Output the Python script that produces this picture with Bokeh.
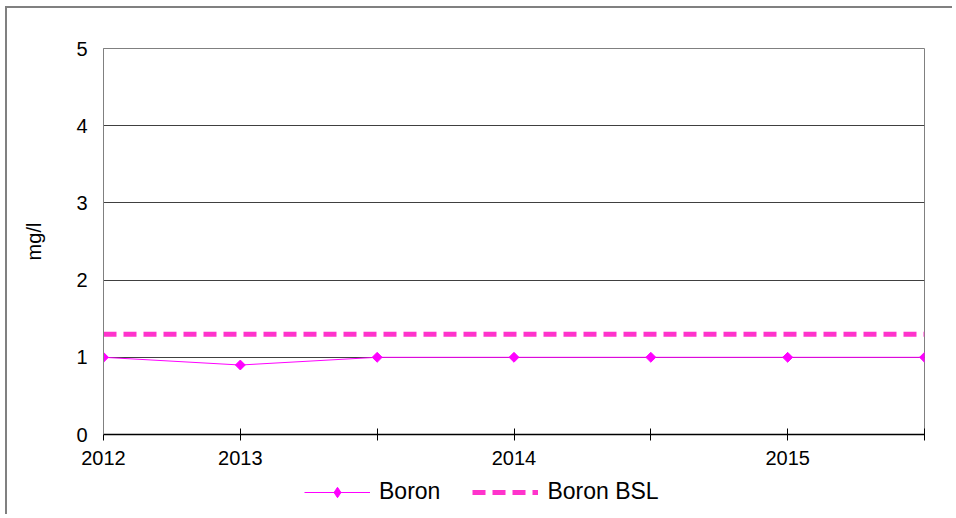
import math
from bokeh.plotting import figure
from bokeh.layouts import column
from bokeh.models import (Range1d, FixedTicker, Legend, LegendItem, ColumnDataSource)
from bokeh.embed import file_html
from bokeh.resources import INLINE

# ---- data ----
x_pos = [0, 1, 2, 3, 4, 5, 6]
x_labels = ["2012", "2013", "", "2014", "", "2015", ""]
boron = [1.0, 0.9, 1.0, 1.0, 1.0, 1.0, 1.0]
boron_bsl = [1.3, 1.3, 1.3, 1.3, 1.3, 1.3, 1.3]
y_ticks = [0, 1, 2, 3, 4, 5]

src = ColumnDataSource(dict(x=x_pos, boron=boron, bsl=boron_bsl))

FONT = "Liberation Sans"
C_BORON = "#FF00FF"
C_BSL = "#FF33CC"

p = figure(width=947, height=466, output_backend="svg", toolbar_location=None,
           x_range=Range1d(0, 6), y_range=Range1d(0, 5),
           min_border_left=96, min_border_right=30, min_border_top=40,
           min_border_bottom=40)
p.styles = {"border-left": "2px solid #808080", "border-top": "2px solid #808080"}

p.background_fill_color = "white"
p.border_fill_color = "white"
p.outline_line_color = "#808080"
p.outline_line_width = 1

# grid
p.xgrid.grid_line_color = None
p.ygrid.grid_line_color = "#404040"
p.ygrid.grid_line_width = 1
p.ygrid.ticker = FixedTicker(ticks=y_ticks)

# y axis
p.yaxis.ticker = FixedTicker(ticks=y_ticks)
p.yaxis.axis_line_color = "#808080"
p.yaxis.major_tick_line_color = None
p.yaxis.minor_tick_line_color = None
p.yaxis.major_tick_out = 0
p.yaxis.major_tick_in = 0
p.yaxis.major_label_standoff = 16
p.yaxis.major_label_text_font = FONT
p.yaxis.major_label_text_font_size = "20px"
p.yaxis.major_label_text_color = "black"
p.yaxis.axis_label = "mg/l"
p.yaxis.axis_label_text_font = FONT
p.yaxis.axis_label_text_font_size = "20px"
p.yaxis.axis_label_text_font_style = "normal"
p.yaxis.axis_label_text_color = "black"
p.yaxis.axis_label_standoff = 28

# x axis
p.xaxis.ticker = FixedTicker(ticks=x_pos)
p.xaxis.major_label_overrides = {x: lab for x, lab in zip(x_pos, x_labels)}
p.xaxis.axis_line_color = "black"
p.xaxis.axis_line_width = 1.5
p.xaxis.major_tick_line_color = "black"
p.xaxis.major_tick_in = 6
p.xaxis.major_tick_out = 6
p.xaxis.minor_tick_line_color = None
p.xaxis.major_label_standoff = 10
p.xaxis.major_label_text_font = FONT
p.xaxis.major_label_text_font_size = "20px"
p.xaxis.major_label_text_color = "black"

# series
p.line("x", "bsl", source=src, line_color=C_BSL, line_width=5, line_dash="13 7")
p.line("x", "boron", source=src, line_color=C_BORON, line_width=1)
p.scatter("x", "boron", source=src, marker="square", angle=math.pi / 4,
          size=7, fill_color=C_BORON, line_color=C_BORON)

# ---- legend strip below the chart ----
p2 = figure(width=947, height=42, output_backend="svg", toolbar_location=None,
            x_range=Range1d(100, 101), y_range=Range1d(100, 101),
            x_axis_location=None, y_axis_location=None,
            min_border=0)
p2.styles = {"border-left": "2px solid #808080"}
p2.outline_line_color = None
p2.grid.visible = False
p2.background_fill_color = "white"
p2.border_fill_color = "white"

l_line = p2.line("x", "boron", source=src, line_color=C_BORON, line_width=1)
l_pts = p2.scatter("x", "boron", source=src, marker="diamond", size=11,
                   fill_color=C_BORON, line_color=C_BORON)
l_bsl = p2.line("x", "bsl", source=src, line_color=C_BSL, line_width=5,
                line_dash="13 7")

legend = Legend(items=[LegendItem(label="Boron", renderers=[l_line, l_pts]),
                       LegendItem(label="Boron BSL", renderers=[l_bsl])],
                orientation="horizontal", location=(201, 9),
                glyph_width=66, glyph_height=26, label_standoff=9, spacing=32,
                padding=2, margin=0, border_line_color=None,
                background_fill_color="white", background_fill_alpha=1.0,
                label_text_font=FONT, label_text_font_size="23px",
                label_text_color="black")
p2.add_layout(legend, "center")

layout = column(p, p2, spacing=0)
layout.styles = {"margin-left": "5px", "margin-top": "6px"}
open("out.html", "w").write(file_html(layout, INLINE))
